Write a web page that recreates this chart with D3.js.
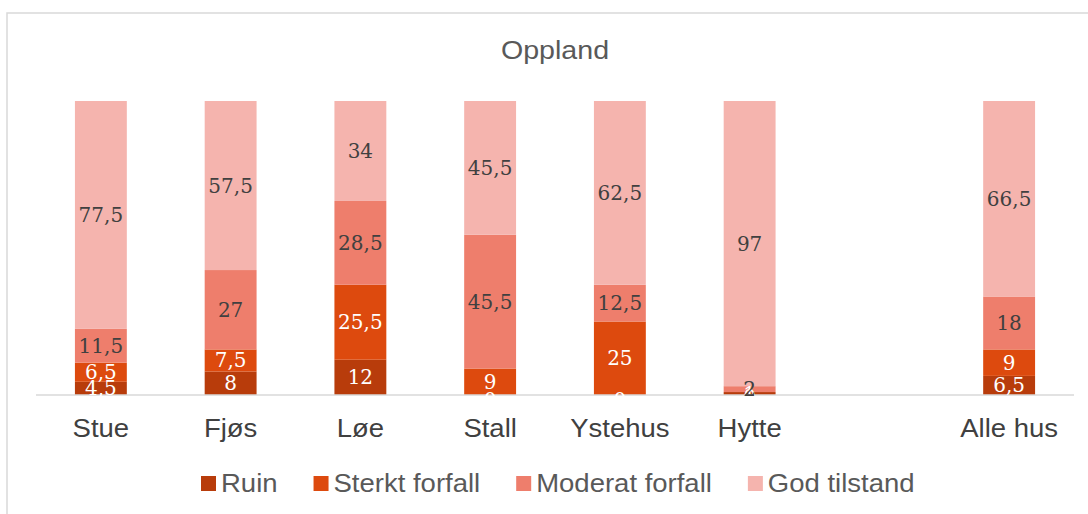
<!DOCTYPE html>
<html>
<head>
<meta charset="utf-8">
<script src="https://cdn.jsdelivr.net/npm/d3@7"></script>
<style>
  body { margin: 0; background: #fff; }
  svg { display: block; }
</style>
</head>
<body>
<div id="chart"></div>
<script>
// data
const categories = ["Stue", "Fjøs", "Løe", "Stall", "Ystehus", "Hytte", "", "Alle hus"];
const seriesNames = ["Ruin", "Sterkt forfall", "Moderat forfall", "God tilstand"];
const ruin     = [4.5, 8, 12, 0, 0, 1, null, 6.5];
const sterkt   = [6.5, 7.5, 25.5, 9, 25, 0, null, 9];
const moderat  = [11.5, 27, 28.5, 45.5, 12.5, 2, null, 18];
const god      = [77.5, 57.5, 34, 45.5, 62.5, 97, null, 66.5];
const colors = ["#b83c0b", "#dd4a0e", "#ee7e6c", "#f5b4ae"];
const labelColors = ["#ffffff", "#ffffff", "#404040", "#404040"];

const width = 1088, height = 514;
const margin = { top: 101, right: 14, bottom: 119, left: 36 };
const sans = "Arial, 'Liberation Sans', sans-serif";
const stretch = 1.1; // reference text is a bit wider than Arial

const svg = d3.select("#chart").append("svg")
  .attr("width", width)
  .attr("height", height);

// frame
svg.append("rect")
  .attr("x", 7).attr("y", 13)
  .attr("width", width + 10).attr("height", height + 10)
  .attr("fill", "#fff")
  .attr("stroke", "#d9d9d9")
  .attr("stroke-width", 1.5);

const table = categories.map((c, i) => ({
  cat: c, Ruin: ruin[i], "Sterkt forfall": sterkt[i],
  "Moderat forfall": moderat[i], "God tilstand": god[i]
}));
const rows = table.filter(d => d.cat !== "");
const stacked = d3.stack().keys(seriesNames).value((d, k) => d[k] || 0)(rows);

const x = d3.scaleBand()
  .domain(categories.map((c, i) => c === "" ? "_gap" + i : c))
  .range([margin.left, width - margin.right])
  .paddingInner(0.6)
  .paddingOuter(0.3);

const y = d3.scaleLinear()
  .domain([0, 100])
  .range([height - margin.bottom, margin.top]);

const fmt = v => String(v).replace(".", ",");

// bars
const layer = svg.selectAll("g.layer")
  .data(stacked)
  .enter().append("g")
  .attr("class", "layer")
  .attr("fill", (d, i) => colors[i]);

layer.selectAll("rect")
  .data(d => d)
  .enter().append("rect")
  .attr("x", d => x(d.data.cat))
  .attr("y", d => y(d[1]))
  .attr("width", x.bandwidth())
  .attr("height", d => y(d[0]) - y(d[1]));

// x axis line
svg.append("line")
  .attr("x1", margin.left).attr("x2", width - margin.right)
  .attr("y1", y(0)).attr("y2", y(0))
  .attr("stroke", "#d9d9d9")
  .attr("stroke-width", 1.5);

// data labels
stacked.forEach((s, si) => {
  svg.append("g").selectAll("text")
    .data(s)
    .enter().append("text")
    .attr("x", d => x(d.data.cat) + x.bandwidth() / 2)
    .attr("y", d => (y(d[0]) + y(d[1])) / 2 + (d.data[s.key] === 0 ? 5 : 0))
    .attr("dy", "0.35em")
    .attr("text-anchor", "middle")
    .attr("font-family", "'DejaVu Serif', Georgia, serif")
    .attr("font-size", "20px")
    .attr("fill", labelColors[si])
    .text(d => fmt(d.data[s.key]));
});

// category labels
svg.append("g").selectAll("text")
  .data(rows)
  .enter().append("text")
  .attr("transform", d => `translate(${x(d.cat) + x.bandwidth() / 2},${y(0) + 42}) scale(${stretch},1)`)
  .attr("text-anchor", "middle")
  .attr("font-family", sans)
  .attr("font-size", "25px")
  .attr("fill", "#404040")
  .text(d => d.cat);

// title
svg.append("text")
  .attr("transform", `translate(555,59) scale(${stretch},1)`)
  .attr("text-anchor", "middle")
  .attr("font-family", sans)
  .attr("font-size", "26px")
  .attr("fill", "#595959")
  .text("Oppland");

// legend
const legend = svg.append("g");
let lx = 201;
seriesNames.forEach((name, i) => {
  legend.append("rect")
    .attr("x", lx).attr("y", 476)
    .attr("width", 15).attr("height", 15)
    .attr("fill", colors[i]);
  const t = legend.append("text")
    .attr("transform", `translate(${lx + 20},492) scale(${stretch},1)`)
    .attr("font-family", sans)
    .attr("font-size", "25px")
    .attr("fill", "#595959")
    .text(name);
  lx += 20 + t.node().getComputedTextLength() * stretch + 36;
});
</script>
</body>
</html>
